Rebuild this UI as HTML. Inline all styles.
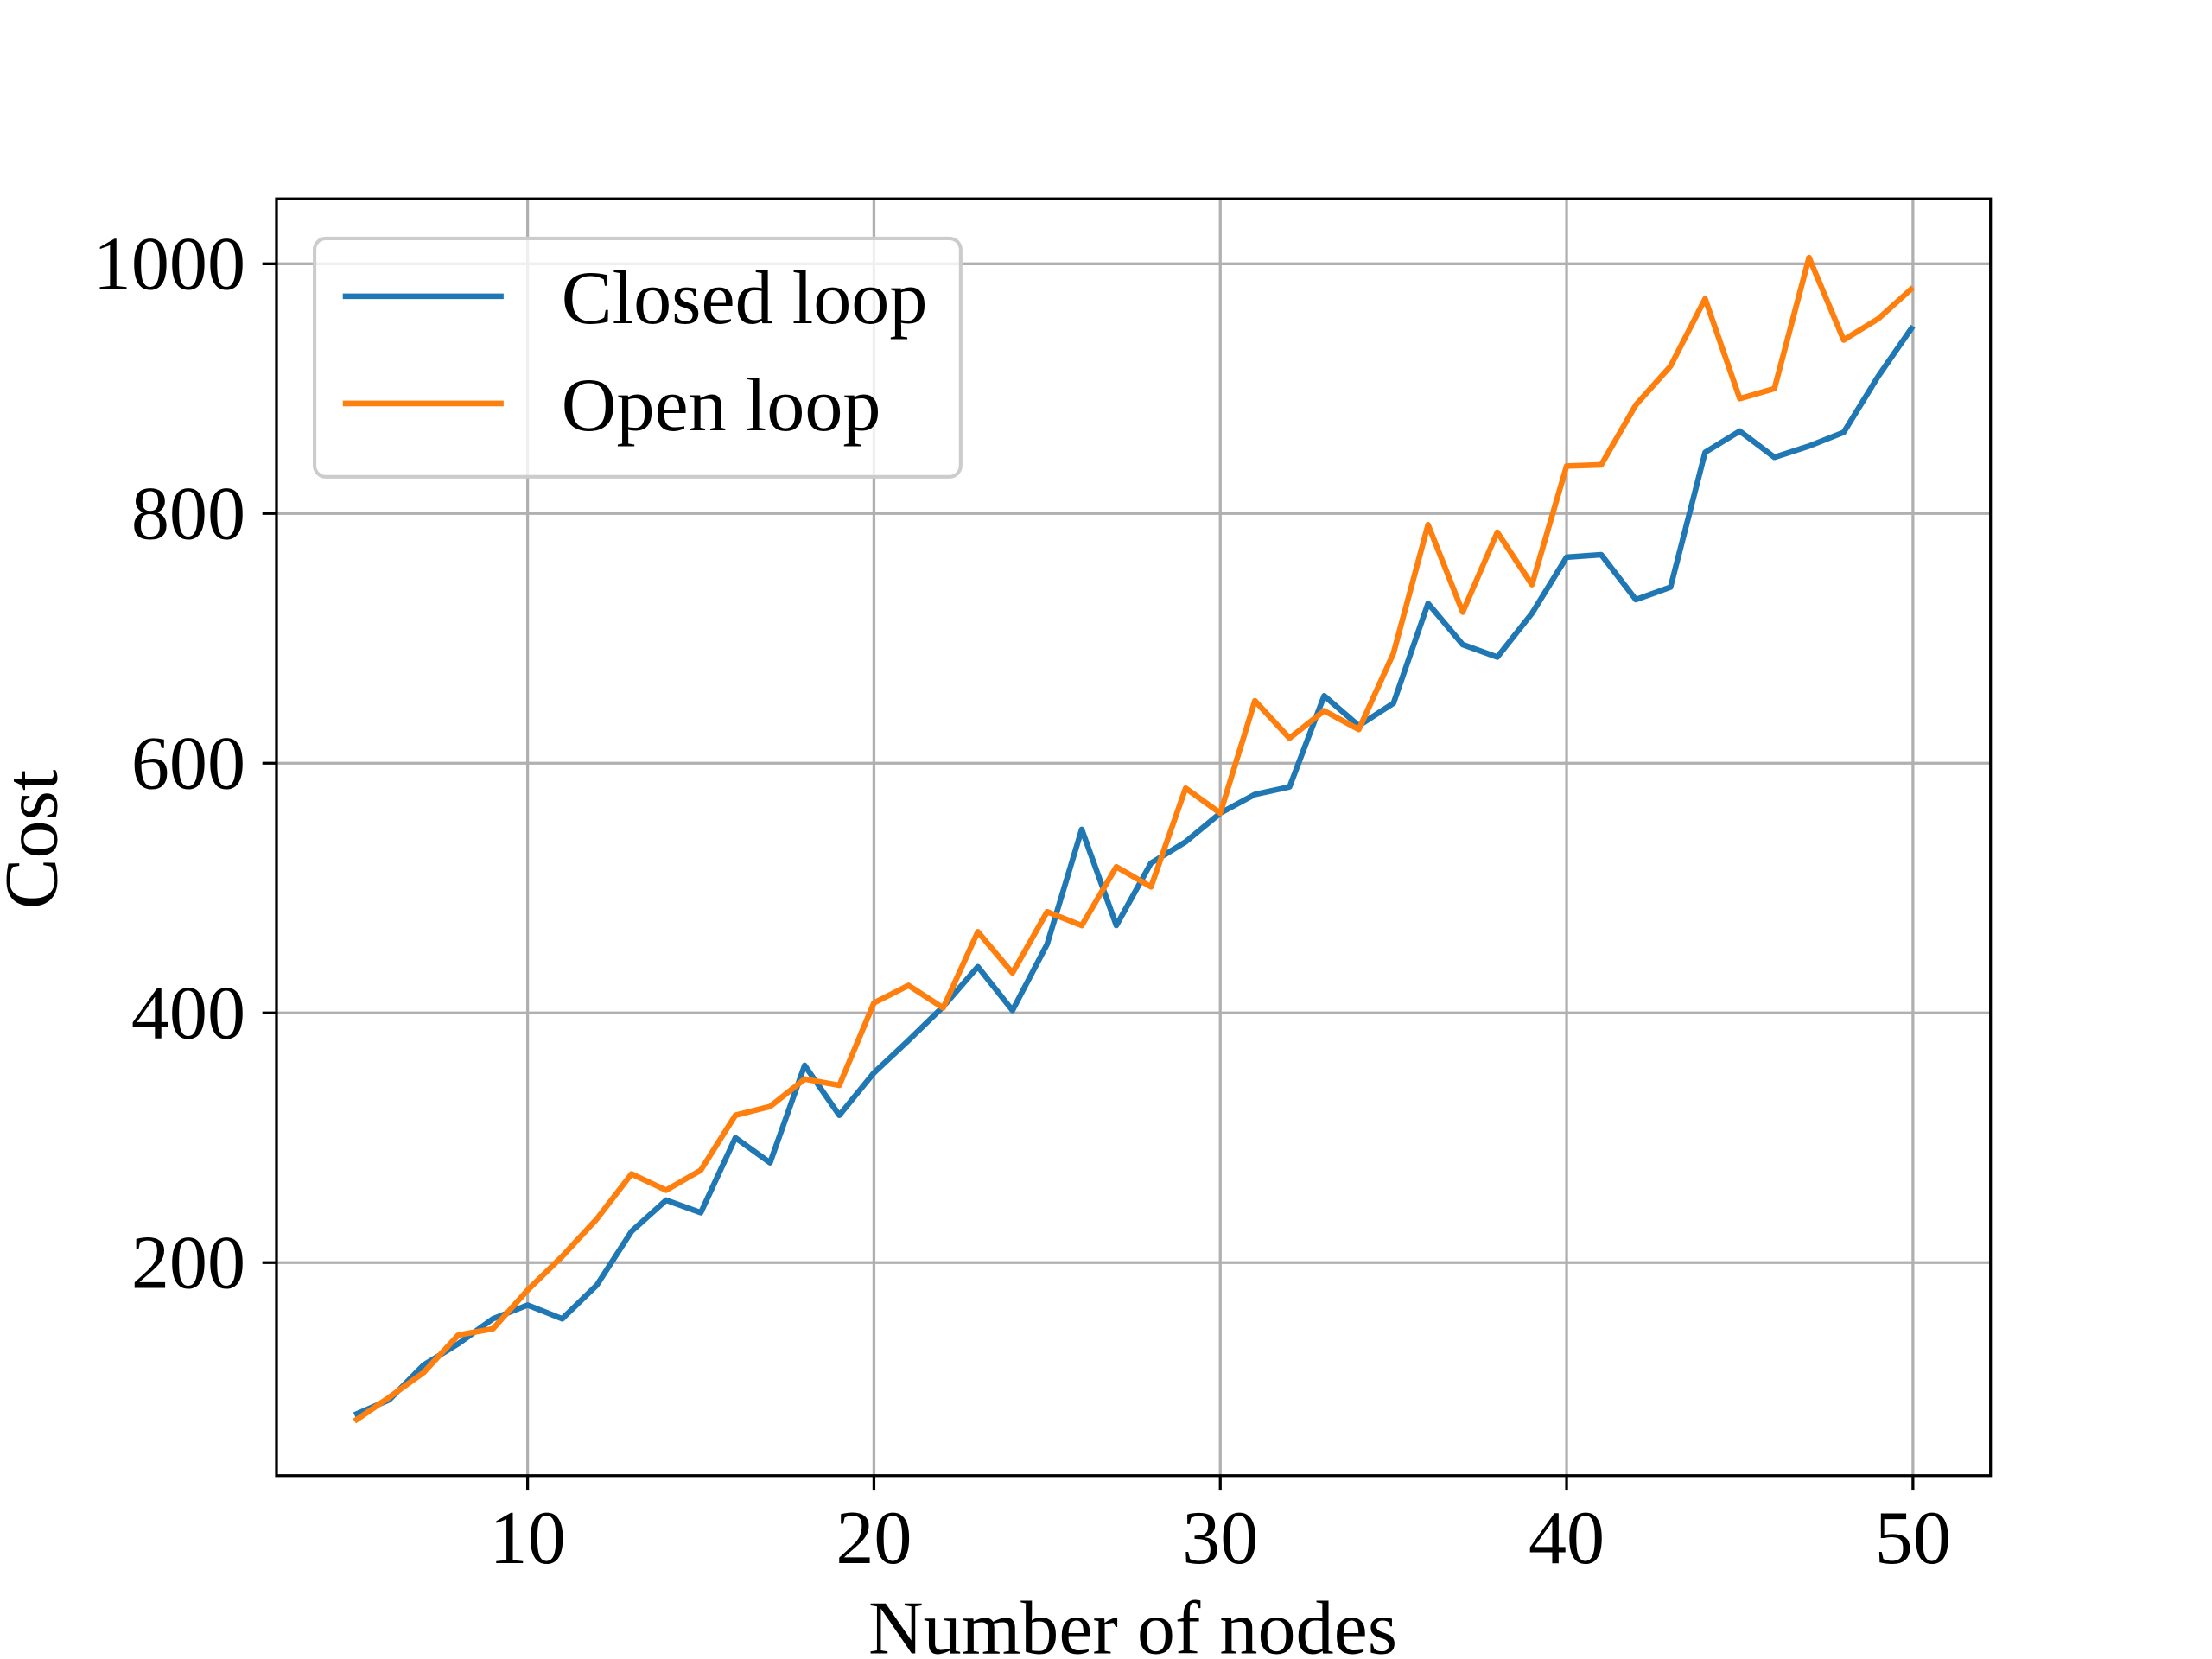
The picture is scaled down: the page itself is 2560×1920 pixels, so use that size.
<!DOCTYPE html>
<html><head><meta charset="utf-8"><style>
html,body{margin:0;padding:0;background:#fff;}
svg{display:block;font-family:"Liberation Serif",serif;}
</style></head><body>
<svg id="chart" width="2560" height="1920" viewBox="0 0 1568 1176" xmlns="http://www.w3.org/2000/svg">
<rect width="1568" height="1176" fill="#fff"/>
<g id="grid"></g><g id="series"></g><g id="axes"></g><g id="legend"></g>
</svg>
<script>
const xValues=[5,6,7,8,9,10,11,12,13,14,15,16,17,18,19,20,21,22,23,24,25,26,27,28,29,30,31,32,33,34,35,36,37,38,39,40,41,42,43,44,45,46,47,48,49,50];
const closedLoop=[78,90,118,135,155,166,155,182,225,250,240,300,280,358,318,352,378,405,437,402,455,547,470,520,537,560,575,581,654,630,648,728,695,685,720,765,767,731,741,849,866,845,854,865,910,950];
const openLoop=[73,92,112,142,147,178,205,235,271,258,274,318,325,347,342,408,422,404,465,432,481,470,517,501,580,560,650,620,642,627,688,791,721,785,743,838,839,887,918,972,892,900,1005,939,956,981];
const xTicks=[10,20,30,40,50];
const yTicks=[200,400,600,800,1000];
const seriesNames=["Closed loop","Open loop"];
const L=196,R=1411,T=141,B=1046;
function xs(v){return 374+(v-10)*(1356-374)/40;}
function ys(v){return 895-(v-200)*(895-187)/800;}
const NS="http://www.w3.org/2000/svg";
function mk(tag,attrs,parent){const e=document.createElementNS(NS,tag);for(const k in attrs)e.setAttribute(k,attrs[k]);parent.appendChild(e);return e;}
const grid=document.getElementById('grid'),axes=document.getElementById('axes'),series=document.getElementById('series'),legend=document.getElementById('legend');
xTicks.forEach(t=>{
  const g=mk('line',{x1:xs(t),x2:xs(t),y1:T,y2:B,stroke:'#b0b0b0','stroke-width':2},grid);
  
  
  mk('line',{x1:xs(t),x2:xs(t),y1:B,y2:B+10,stroke:'#000','stroke-width':2},axes);
  const tx=mk('text',{x:xs(t),y:1108,'text-anchor':'middle','font-size':54},axes);tx.textContent=t;
  
  
});
yTicks.forEach(t=>{
  const g=mk('line',{x1:L,x2:R,y1:ys(t),y2:ys(t),stroke:'#b0b0b0','stroke-width':2},grid);
  
  
  mk('line',{x1:L-10,x2:L,y1:ys(t),y2:ys(t),stroke:'#000','stroke-width':2},axes);
  const tx=mk('text',{x:174,y:ys(t)+18,'text-anchor':'end','font-size':54},axes);tx.textContent=t;
  
  
});
const frame=mk('rect',{x:L,y:T,width:R-L,height:B-T,fill:'none',stroke:'#000','stroke-width':2},axes);


const xl=mk('text',{x:803,y:1172,'text-anchor':'middle','font-size':54},axes);xl.textContent='Number of nodes';


const yl=mk('text',{x:0,y:0,'text-anchor':'middle','font-size':54,transform:'translate(40,595) rotate(-90)'},axes);yl.textContent='Cost';


const colors=['#1f77b4','#ff7f0e'];
[closedLoop,openLoop].forEach((d,i)=>{
  const p=mk('polyline',{points:d.map((v,j)=>xs(xValues[j])+','+ys(v)).join(' '),fill:'none',stroke:colors[i],'stroke-width':4,'stroke-linejoin':'round'},series);
  
  
});
const lb=mk('rect',{x:223,y:169,width:458,height:169,rx:8,fill:'rgba(255,255,255,0.8)',stroke:'#cccccc','stroke-width':2.5},legend);


seriesNames.forEach((n,i)=>{
  const y=210+i*76;
  const ln=mk('line',{x1:243,x2:357,y1:y,y2:y,stroke:colors[i],'stroke-width':4},legend);
  
  
  const t=mk('text',{x:398,y:y+19,'font-size':54},legend);t.textContent=n;
  
  
});
</script>
</body></html>
